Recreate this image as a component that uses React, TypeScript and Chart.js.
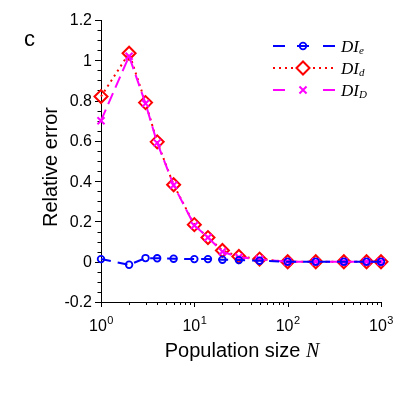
import React, { useEffect, useRef } from "react";
import { Chart, registerables } from "chart.js";
import { drawPoint } from "chart.js/helpers";

Chart.register(...registerables);

// Population sizes N (x, log scale) and relative errors of the three estimators
const populationSizes = [1, 2, 3, 4, 6, 10, 14, 20, 30, 50, 100, 200, 400, 700, 1000];
const errorDIe = [0.013, -0.015, 0.018, 0.017, 0.015, 0.013, 0.013, 0.01, 0.008, 0.005, 0, 0, 0, 0, 0];
const errorDId = [0.82, 1.035, 0.79, 0.595, 0.382, 0.184, 0.12, 0.056, 0.026, 0.013, 0, 0, 0, 0, 0];
const errorDID = [0.7, 1.02, 0.785, 0.59, 0.38, 0.18, 0.12, 0.05, 0.022, 0.012, 0, 0, 0, 0, 0];

const yTickValues = [-0.2, 0, 0.2, 0.4, 0.6, 0.8, 1, 1.2];
const yTickLabels = ["-0.2", "0", "0.2", "0.4", "0.6", "0.8", "1", "1.2"];
const yMinorStep = 0.05;
const xDecadeExponents = [0, 1, 2, 3];

const seriesBase = ["DI", "DI", "DI"];
const seriesSub = ["e", "d", "D"];

const BLUE = "#0000ff";
const RED = "#ff0000";
const MAGENTA = "#ff00ff";

const SANS = "'Liberation Sans', Arial, Helvetica, sans-serif";
const SERIF = "'Liberation Serif', 'Times New Roman', serif";

const toPoints = (ys: number[]) => populationSizes.map((n, i) => ({ x: n, y: ys[i] }));

// Axes with outward ticks, minor ticks and power-of-ten labels
const axesPlugin = {
  id: "axesPlugin",
  beforeDatasetsDraw(chart: any) {
    const { ctx, chartArea } = chart;
    const xs = chart.scales.x;
    const ys = chart.scales.y;
    const { left, right, top, bottom } = chartArea;
    ctx.save();
    ctx.strokeStyle = "#000";
    ctx.fillStyle = "#000";
    ctx.lineWidth = 1;

    // axis lines
    ctx.beginPath();
    ctx.moveTo(left + 0.5, top);
    ctx.lineTo(left + 0.5, bottom + 0.5);
    ctx.lineTo(right, bottom + 0.5);
    ctx.stroke();

    // y ticks
    const yMin = yTickValues[0];
    const yMax = yTickValues[yTickValues.length - 1];
    const nMinor = Math.round((yMax - yMin) / yMinorStep);
    ctx.beginPath();
    for (let k = 0; k <= nMinor; k++) {
      const v = yMin + k * yMinorStep;
      const py = Math.round(ys.getPixelForValue(v)) + 0.5;
      const isMajor = k % 4 === 0;
      ctx.moveTo(left, py);
      ctx.lineTo(left - (isMajor ? 6 : 3.5), py);
    }
    ctx.stroke();

    ctx.font = `16px ${SANS}`;
    ctx.textAlign = "right";
    ctx.textBaseline = "middle";
    yTickValues.forEach((v, i) => {
      ctx.fillText(yTickLabels[i], left - 9, ys.getPixelForValue(v) + 1);
    });

    // x ticks (log decades with minor ticks at 2..9)
    ctx.beginPath();
    xDecadeExponents.forEach((e, idx) => {
      const base = Math.pow(10, e);
      const px = Math.round(xs.getPixelForValue(base)) + 0.5;
      ctx.moveTo(px, bottom);
      ctx.lineTo(px, bottom + 5);
      if (idx < xDecadeExponents.length - 1) {
        for (let m = 2; m <= 9; m++) {
          const pm = Math.round(xs.getPixelForValue(base * m)) + 0.5;
          ctx.moveTo(pm, bottom);
          ctx.lineTo(pm, bottom + 3);
        }
      }
    });
    ctx.stroke();

    ctx.textAlign = "left";
    ctx.textBaseline = "alphabetic";
    xDecadeExponents.forEach((e) => {
      const px = xs.getPixelForValue(Math.pow(10, e));
      ctx.font = `16px ${SANS}`;
      const wBase = ctx.measureText("10").width;
      ctx.font = `11px ${SANS}`;
      const wExp = ctx.measureText(String(e)).width;
      const x0 = px - (wBase + wExp) / 2;
      ctx.font = `16px ${SANS}`;
      ctx.fillText("10", x0, bottom + 29);
      ctx.font = `11px ${SANS}`;
      ctx.fillText(String(e), x0 + wBase + 0.5, bottom + 22);
    });

    // axis titles
    ctx.font = `20px ${SANS}`;
    ctx.textAlign = "center";
    ctx.save();
    ctx.translate(57, 167);
    ctx.rotate(-Math.PI / 2);
    ctx.fillText("Relative error", 0, 0);
    ctx.restore();

    const xTitle = "Population size ";
    ctx.font = `20px ${SANS}`;
    const w1 = ctx.measureText(xTitle).width;
    ctx.font = `italic 20px ${SERIF}`;
    const w2 = ctx.measureText("N").width;
    const tx = 242 - (w1 + w2) / 2;
    ctx.textAlign = "left";
    ctx.font = `20px ${SANS}`;
    ctx.fillText(xTitle, tx, bottom + 55);
    ctx.font = `italic 20px ${SERIF}`;
    ctx.fillText("N", tx + w1, bottom + 55);

    // panel letter
    ctx.font = `22px ${SANS}`;
    ctx.fillText("c", 24, 46);
    ctx.restore();
  },
};

// Legend with line sample, marker and subscripted label
const legendPlugin = {
  id: "legendPlugin",
  afterDraw(chart: any) {
    const { ctx } = chart;
    const rows = [46, 68, 90];
    const x0 = 273;
    const x1 = 335;
    const xm = 303;
    ctx.save();
    chart.data.datasets.forEach((ds: any, i: number) => {
      const y = rows[i];
      ctx.strokeStyle = ds.borderColor;
      ctx.lineWidth = ds.borderWidth;
      if (ds.legendDotted) {
        ctx.setLineDash(ds.borderDash);
        ctx.beginPath();
        ctx.moveTo(x0, y);
        ctx.lineTo(xm - 9, y);
        ctx.moveTo(xm + 10, y);
        ctx.lineTo(x1, y);
        ctx.stroke();
      } else {
        ctx.setLineDash([]);
        ctx.beginPath();
        ctx.moveTo(x0, y);
        ctx.lineTo(x0 + 12, y);
        ctx.moveTo(x1 - 12, y);
        ctx.lineTo(x1, y);
        if (ds.pointStyle === "circle") {
          ctx.moveTo(xm - 6, y);
          ctx.lineTo(xm + 6, y);
        }
        ctx.stroke();
      }
      ctx.setLineDash([]);
      ctx.lineWidth = ds.pointBorderWidth;
      ctx.strokeStyle = ds.pointBorderColor;
      ctx.fillStyle = "rgba(0,0,0,0)";
      drawPoint(
        ctx,
        { pointStyle: ds.pointStyle, rotation: 0, borderWidth: ds.pointBorderWidth, radius: ds.pointRadius } as any,
        xm,
        y
      );
      ctx.fillStyle = "#000";
      ctx.textAlign = "left";
      ctx.textBaseline = "alphabetic";
      ctx.font = `italic 17px ${SERIF}`;
      ctx.fillText(seriesBase[i], 341, y + 6);
      const wb = ctx.measureText(seriesBase[i]).width;
      ctx.font = `italic 11px ${SERIF}`;
      ctx.fillText(seriesSub[i], 341 + wb, y + 8);
    });
    ctx.restore();
  },
};

export default function App() {
  const canvasRef = useRef<HTMLCanvasElement | null>(null);

  useEffect(() => {
    if (!canvasRef.current) return;
    const chart = new Chart(canvasRef.current, {
      type: "line",
      data: {
        datasets: [
          {
            label: "DIe",
            data: toPoints(errorDIe),
            borderColor: BLUE,
            borderWidth: 2,
            borderDash: [10, 7],
            pointStyle: "circle",
            pointRadius: 3.3,
            pointBorderWidth: 1.8,
            pointBorderColor: BLUE,
            pointBackgroundColor: "rgba(0,0,0,0)",
            order: 0,
            clip: false,
          } as any,
          {
            label: "DId",
            data: toPoints(errorDId),
            borderColor: RED,
            borderWidth: 2,
            borderDash: [2, 4],
            legendDotted: true,
            pointStyle: "rectRot",
            pointRadius: 6.5,
            pointBorderWidth: 2,
            pointBorderColor: RED,
            pointBackgroundColor: "rgba(0,0,0,0)",
            order: 2,
            clip: false,
          } as any,
          {
            label: "DID",
            data: toPoints(errorDID),
            borderColor: MAGENTA,
            borderWidth: 2,
            borderDash: [12, 6],
            pointStyle: "crossRot",
            pointRadius: 5,
            pointBorderWidth: 2,
            pointBorderColor: MAGENTA,
            pointBackgroundColor: "rgba(0,0,0,0)",
            order: 1,
            clip: false,
          } as any,
        ],
      },
      options: {
        animation: false,
        responsive: false,
        maintainAspectRatio: false,
        layout: { padding: { left: 101, right: 24, top: 20, bottom: 103 } },
        plugins: {
          legend: { display: false },
          tooltip: { enabled: false },
        },
        elements: { line: { tension: 0 } },
        scales: {
          x: { type: "logarithmic", min: 1, max: 1000, display: false },
          y: { type: "linear", min: -0.2, max: 1.2, display: false },
        },
      },
      plugins: [axesPlugin, legendPlugin],
    });
    return () => chart.destroy();
  }, []);

  return (
    <div style={{ position: "fixed", left: 0, top: 0, width: 405, height: 405, background: "#fff" }}>
      <canvas ref={canvasRef} width={405} height={405} style={{ width: 405, height: 405 }} />
    </div>
  );
}
